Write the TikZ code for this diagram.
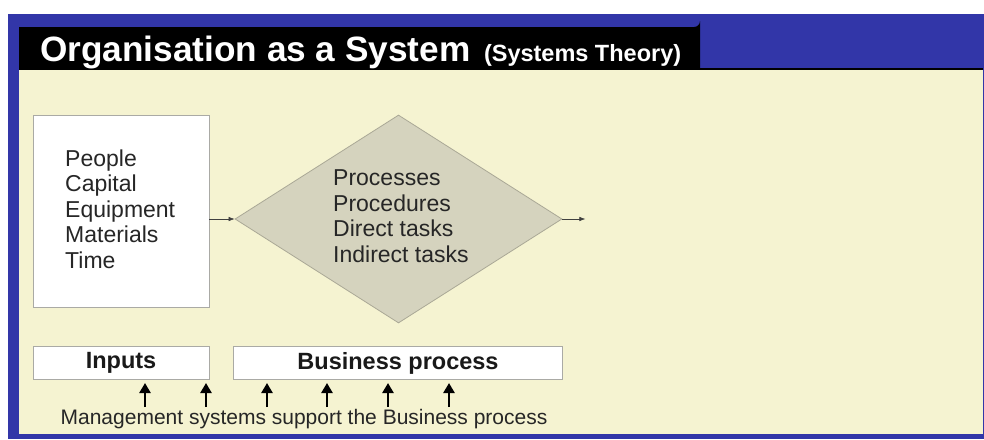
\documentclass[tikz,border=0pt]{standalone}
\usepackage{fontspec}
\setmainfont{Liberation Sans}
\usetikzlibrary{shapes.geometric,arrows.meta}
\definecolor{frameblue}{RGB}{50,54,168}
\definecolor{panelcream}{RGB}{245,243,209}
\definecolor{diamondfill}{RGB}{213,211,190}
\definecolor{diamondline}{RGB}{170,168,150}
\definecolor{boxedge}{RGB}{170,170,165}
\tikzset{
  whitebox/.style={draw=boxedge, line width=0.8pt, fill=white, inner sep=0pt},
  bodytext/.style={font=\fontsize{23}{25.5}\selectfont, text=black!85, inner sep=0pt},
  labeltext/.style={font=\fontsize{23.5}{25}\selectfont\bfseries, text=black!90},
  flow/.style={-{Latex[length=6pt,width=4.5pt]}, line width=0.6pt, draw=black!75},
  support/.style={-{Triangle[length=10pt,width=11pt]}, line width=2.4pt, draw=black}
}
\begin{document}
\begin{tikzpicture}[x=1pt,y=-1pt]
  \useasboundingbox (0,0) rectangle (984,439);
  % frame and panel
  \fill[white] (0,0) rectangle (984,439);
  \fill[frameblue] (8,14) rectangle (984,439);
  \fill[black] (19,69) -- (19,27) -- (694,27) arc[start angle=90,end angle=0,radius=6] -- (700,69) -- cycle;
  \fill[panelcream] (19,69) rectangle (983,434);
  \draw[black, line width=1.2pt] (19,69) -- (983,69);
  % title
  \node[anchor=base west, inner sep=0pt, text=white, font=\fontsize{35.2}{36}\selectfont\bfseries] (title) at (40,61) {Organisation as a System};
  \node[anchor=base west, inner sep=0pt, text=white, font=\fontsize{23.5}{25}\selectfont\bfseries] (subtitle) at ([xshift=13pt]title.base east) {(Systems Theory)};
  % inputs box
  \node[whitebox, minimum width=176pt, minimum height=192pt] (inbox) at (121,211) {};
  \node[bodytext, align=left, anchor=north west] (inlist) at (65,149.5) {People\\Capital\\Equipment\\Materials\\Time};
  % process diamond
  \node[diamond, draw=diamondline, line width=0.8pt, fill=diamondfill, minimum width=327pt, minimum height=208pt, inner sep=0pt] (proc) at (398.5,219) {};
  \node[bodytext, align=left, anchor=north west] (proclist) at (333,169.5) {Processes\\Procedures\\Direct tasks\\Indirect tasks};
  \coordinate (out) at ([xshift=23pt]proc.east);
  \draw[flow] (inbox.east |- proc.west) -- (proc.west);
  \draw[flow] (proc.east) -- (out);
  % labels
  \node[whitebox, minimum width=176pt, minimum height=33pt] (inputs) at (121,363) {};
  \node[labeltext] (inputslbl) at (inputs) {Inputs};
  \node[whitebox, minimum width=329pt, minimum height=33pt] (bproc) at (398,363) {};
  \node[labeltext] (bproclbl) at (bproc) {Business process};
  % management support
  \node[anchor=base, inner sep=0pt, font=\fontsize{21}{22}\selectfont, text=black!85] (mgmt) at (304,424) {Management systems support the Business process};
  \foreach \i/\x in {1/145,2/206,3/267,4/327,5/388,6/449}{
    \coordinate (s\i) at (\x,407);
    \coordinate (t\i) at (\x,383);
    \draw[support] (s\i) -- (t\i);
  }
\end{tikzpicture}
\end{document}
